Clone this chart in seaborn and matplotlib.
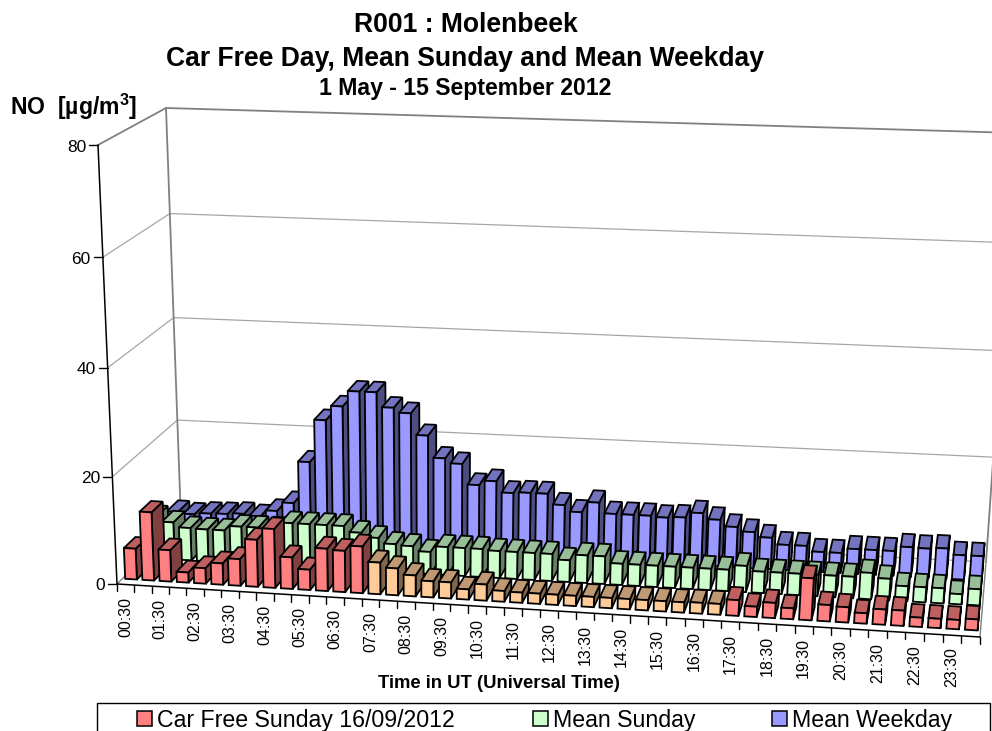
import numpy as np
import pandas as pd
import matplotlib
matplotlib.use("Agg")
import matplotlib.pyplot as plt
import seaborn as sns
from matplotlib.patches import Rectangle
from matplotlib.transforms import Transform


TIMES = [f"{(h + (m + 30) // 60) % 24:02d}:{(m + 30) % 60:02d}" for h in range(24) for m in (0, 30)]

CAR_FREE = [5.8, 12.8, 5.9, 1.9, 2.9, 4.0, 5.0, 8.8, 11.0, 5.9, 3.8, 7.9,
            7.7, 8.7, 5.9, 5.0, 3.9, 3.0, 3.0, 1.9, 3.0, 2.0, 1.9, 1.9,
            1.9, 1.9, 1.9, 1.9, 1.9, 1.9, 1.9, 1.9, 2.0, 2.0, 2.9, 1.9,
            2.8, 2.0, 7.7, 3.0, 2.8, 1.9, 2.8, 2.8, 1.7, 1.7, 1.7, 2.0]
MEAN_SUNDAY = [8.0, 7.1, 6.2, 6.1, 6.1, 7.0, 7.0, 7.0, 8.2, 8.2, 8.2, 8.2,
               7.1, 6.3, 5.3, 5.1, 4.2, 5.3, 5.3, 5.3, 5.1, 5.1, 5.1, 5.1,
               4.1, 5.2, 5.2, 4.0, 4.0, 4.0, 4.0, 4.0, 4.0, 4.0, 4.9, 4.0,
               4.0, 4.0, 4.0, 4.0, 4.0, 4.9, 4.0, 2.8, 2.8, 2.8, 1.9, 3.0]
MEAN_WEEKDAY = [5.0, 4.7, 5.0, 5.1, 5.3, 5.0, 6.2, 7.9, 16.0, 24.2, 27.0, 30.0,
                30.0, 27.2, 26.3, 22.2, 18.0, 17.1, 13.2, 14.1, 12.0, 12.2, 12.2, 10.2,
                9.0, 11.0, 9.0, 9.0, 9.0, 8.8, 9.0, 10.0, 8.9, 7.7, 6.9, 6.0,
                4.8, 4.8, 3.8, 3.8, 4.7, 4.7, 4.7, 5.6, 5.5, 5.7, 4.6, 4.6]
CAR_FREE_START = 14
CAR_FREE_END = 33

Y_TICKS = [0, 20, 40, 60, 80]
SERIES_NAMES = ["Car Free Sunday 16/09/2012", "Mean Sunday", "Mean Weekday"]

RED = "#FF8080"
ORANGE = "#FFCC99"
GREEN = "#CCFFCC"
BLUE = "#9999FF"

# corners of the chart box on the page, in pixels
FL0, FL80 = np.array([117.0, 584.0]), np.array([98.0, 145.0])
BL0, BL80 = np.array([181.0, 521.0]), np.array([166.0, 108.0])
FR0, FR80 = np.array([980.0, 637.0]), np.array([1016.0, 184.0])
BR0, BR80 = np.array([986.0, 562.0]), np.array([1016.0, 133.0])

BAR_WIDTH = 0.68
BAR_DEPTH = 0.18
EDGE = 1.3


def project(x, v, z):
    """Category position, depth 0-1 and value to page pixels."""
    x, v, z = np.asarray(x, float), np.asarray(v, float), np.asarray(z, float)
    u = (x + 0.5) / 48
    w = (u - 0.04 * u * (1 - u))[..., None]
    f = z / 80
    f = (f - 0.03 * f * (1 - f))[..., None]
    v = v[..., None]
    low = (1 - w) * ((1 - v) * FL0 + v * BL0) + w * ((1 - v) * FR0 + v * BR0)
    high = (1 - w) * ((1 - v) * FL80 + v * BL80) + w * ((1 - v) * FR80 + v * BR80)
    return low + (high - low) * f


class BoxProjection(Transform):
    """Maps (category, value) of a bar onto the front plane at one depth."""
    input_dims = 2
    output_dims = 2
    is_separable = False

    def __init__(self, plane):
        super().__init__()
        self.plane = plane

    def transform_non_affine(self, values):
        values = np.asarray(values, float)
        return project(values[:, 0], np.full(len(values), self.plane), values[:, 1])


def shade(colour, factor):
    return tuple(c * factor for c in matplotlib.colors.to_rgb(colour))


def draw_series(ax, values, palette, plane, layer):
    """Draw one row of bars with seaborn, then extrude them in depth."""
    df = pd.DataFrame({"time": TIMES, "value": values})
    df["part"] = ["car_free" if CAR_FREE_START <= i <= CAR_FREE_END else "normal" for i in range(48)]
    before = len(ax.patches)
    sns.barplot(data=df, x="time", y="value", hue="part", order=TIMES, palette=palette,
                dodge=False, width=BAR_WIDTH, saturation=1, edgecolor="black", linewidth=EDGE,
                errorbar=None, legend=False, ax=ax)
    projection = BoxProjection(plane) + ax.transData
    for bar in ax.patches[before:]:
        x0, x1, top = bar.get_x(), bar.get_x() + bar.get_width(), bar.get_height()
        colour = bar.get_facecolor()
        order = layer + (x0 + 1) * 0.01
        back = plane + BAR_DEPTH
        side = project([x1, x1, x1, x1], [plane, back, back, plane], [0, 0, top, top])
        roof = project([x0, x1, x1, x0], [plane, plane, back, back], [top, top, top, top])
        ax.fill(side[:, 0], side[:, 1], fc=shade(colour, 0.5), ec="black", lw=EDGE, zorder=order)
        ax.fill(roof[:, 0], roof[:, 1], fc=shade(colour, 0.75), ec="black", lw=EDGE, zorder=order + 0.001)
        bar.set_transform(projection)
        bar.set_zorder(order + 0.002)


def draw_walls(ax):
    for tick in Y_TICKS[1:]:
        colour, lw = ("#808080", 1.3) if tick == 80 else ("#A6A6A6", 0.9)
        side = project([-0.5, -0.5], [0, 1], [tick, tick])
        rear = project([-0.5, 47.5], [1, 1], [tick, tick])
        ax.plot(side[:, 0], side[:, 1], color=colour, lw=lw, zorder=1)
        ax.plot(rear[:, 0], rear[:, 1], color=colour, lw=lw, zorder=1)
    for x, z_top in [(-0.5, 80), (47.5, 80)]:
        edge = project([x, x], [1, 1], [0, z_top])
        ax.plot(edge[:, 0], edge[:, 1], color="#808080", lw=1.3, zorder=1)
    for x in (-0.5, 47.5):
        floor = project([x, x], [0, 1], [0, 0])
        ax.plot(floor[:, 0], floor[:, 1], color="#808080", lw=1.0, zorder=1)
    floor = project([-0.5, 47.5], [1, 1], [0, 0])
    ax.plot(floor[:, 0], floor[:, 1], color="#A6A6A6", lw=0.9, zorder=1)


def draw_axes(ax):
    axis = project([-0.5, -0.5], [0, 0], [0, 80])
    ax.plot(axis[:, 0], axis[:, 1], color="black", lw=1.1, zorder=200)
    axis = project([-0.5, 47.5], [0, 0], [0, 0])
    ax.plot(axis[:, 0], axis[:, 1], color="black", lw=1.1, zorder=200)

    for tick in Y_TICKS:
        px, py = project(-0.5, 0, tick)
        ax.plot([px - 9, px], [py, py], color="black", lw=1.0, zorder=200)
        ax.text(px - 12, py + 2, str(tick), ha="right", va="center", fontsize=12.5)

    for i in range(49):
        px, py = project(i - 0.5, 0, 0)
        ax.plot([px, px], [py, py + 7], color="black", lw=1.0, zorder=200)
    for i in range(0, 48, 2):
        px, py = project(i, 0, 0)
        ax.text(px, py + 12, TIMES[i], rotation=90, ha="center", va="top", fontsize=11.5)


def draw_legend(ax):
    ax.add_patch(Rectangle((97, 703), 893, 40, fc="white", ec="black", lw=1.0, zorder=300))
    entries = [(137, RED), (533, GREEN), (772, BLUE)]
    for (left, colour), name in zip(entries, SERIES_NAMES):
        ax.add_patch(Rectangle((left, 711), 15, 15, fc=colour, ec="black", lw=1.1, zorder=301))
        ax.text(left + 20, 720.5, name, ha="left", va="center", fontsize=16.7, zorder=301)


def main():
    sns.set_theme(style="white", rc={"text.color": "black"})
    plt.rcParams["font.family"] = ["Liberation Sans", "DejaVu Sans"]
    plt.rcParams["mathtext.fontset"] = "custom"
    plt.rcParams["mathtext.bf"] = "Liberation Sans:bold"

    fig = plt.figure(figsize=(9.92, 7.31), dpi=100)
    ax = fig.add_axes([0, 0, 1, 1])

    draw_series(ax, MEAN_WEEKDAY, {"normal": BLUE, "car_free": BLUE}, 0.75, 10)
    draw_series(ax, MEAN_SUNDAY, {"normal": GREEN, "car_free": GREEN}, 0.418, 20)
    draw_series(ax, CAR_FREE, {"normal": RED, "car_free": ORANGE}, 0.085, 30)

    draw_walls(ax)
    draw_axes(ax)
    draw_legend(ax)

    ax.set_xlim(0, 992)
    ax.set_ylim(731, 0)
    ax.set_axis_off()

    title_style = dict(ha="center", va="center", fontweight="bold")
    ax.text(466, 25.5, "R001 : Molenbeek", fontsize=19.1, **title_style)
    ax.text(465.5, 58.5, "Car Free Day, Mean Sunday and Mean Weekday", fontsize=19.1, **title_style)
    ax.text(465.5, 88.5, "1 May - 15 September 2012", fontsize=16.6, **title_style)
    ax.text(10, 107, "NO  [µg/m$^{\\mathbf{3}}$]", ha="left", va="center", fontsize=16.6, fontweight="bold")
    ax.text(499, 683.5, "Time in UT (Universal Time)", fontsize=13.3, **title_style)

    fig.savefig("out.png", dpi=100, facecolor="white")


if __name__ == "__main__":
    main()
